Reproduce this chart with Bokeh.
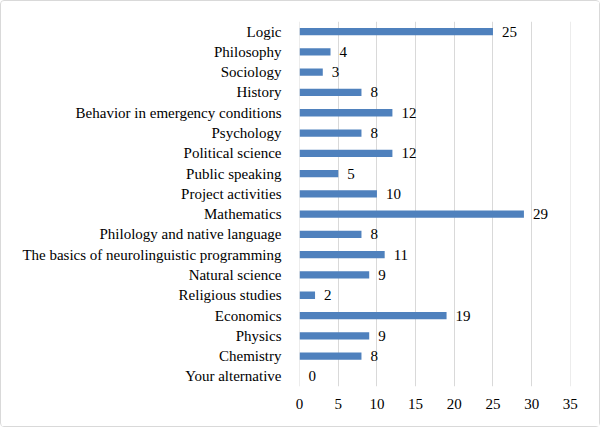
from bokeh.plotting import figure
from bokeh.models import ColumnDataSource, LabelSet, FixedTicker
from bokeh.embed import file_html
from bokeh.resources import INLINE

categories = ["Logic", "Philosophy", "Sociology", "History",
              "Behavior in emergency conditions", "Psychology", "Political science",
              "Public speaking", "Project activities", "Mathematics",
              "Philology and native language",
              "The basics of neurolinguistic programming", "Natural science",
              "Religious studies", "Economics", "Physics", "Chemistry",
              "Your alternative"]
values = [25, 4, 3, 8, 12, 8, 12, 5, 10, 29, 8, 11, 9, 2, 19, 9, 8, 0]
x_ticks = [0, 5, 10, 15, 20, 25, 30, 35]

FONT = "Times New Roman"
src = ColumnDataSource(dict(cat=categories, val=values, lab=[str(v) for v in values]))

p = figure(y_range=list(reversed(categories)), x_range=(-0.01, 35.02),
           width=600, height=427, output_backend="svg", toolbar_location=None,
           min_border_left=298, min_border_right=31, min_border_top=20,
           min_border_bottom=42)
p.styles = {"border": "1px solid #d9d9d9", "border-radius": "4px", "box-sizing": "border-box"}

p.hbar(y="cat", right="val", left=0, height=0.36, fill_color="#4f81bd",
       line_color=None, source=src)
p.add_layout(LabelSet(x="val", y="cat", text="lab", x_offset=9, source=src,
                      text_baseline="middle", text_font=FONT, text_font_size="15px",
                      text_color="black"))

p.outline_line_color = None
p.ygrid.grid_line_color = None
p.xgrid.grid_line_color = "#d9d9d9"
p.xaxis.ticker = FixedTicker(ticks=x_ticks)
for ax in (p.xaxis[0], p.yaxis[0]):
    ax.axis_line_color = None
    ax.major_tick_line_color = None
    ax.minor_tick_line_color = None
    ax.major_label_text_font = FONT
    ax.major_label_text_font_size = "15px"
    ax.major_label_text_color = "black"
p.yaxis.major_label_standoff = 12
p.xaxis.major_label_standoff = 6

open("out.html", "w").write(file_html(p, INLINE))
